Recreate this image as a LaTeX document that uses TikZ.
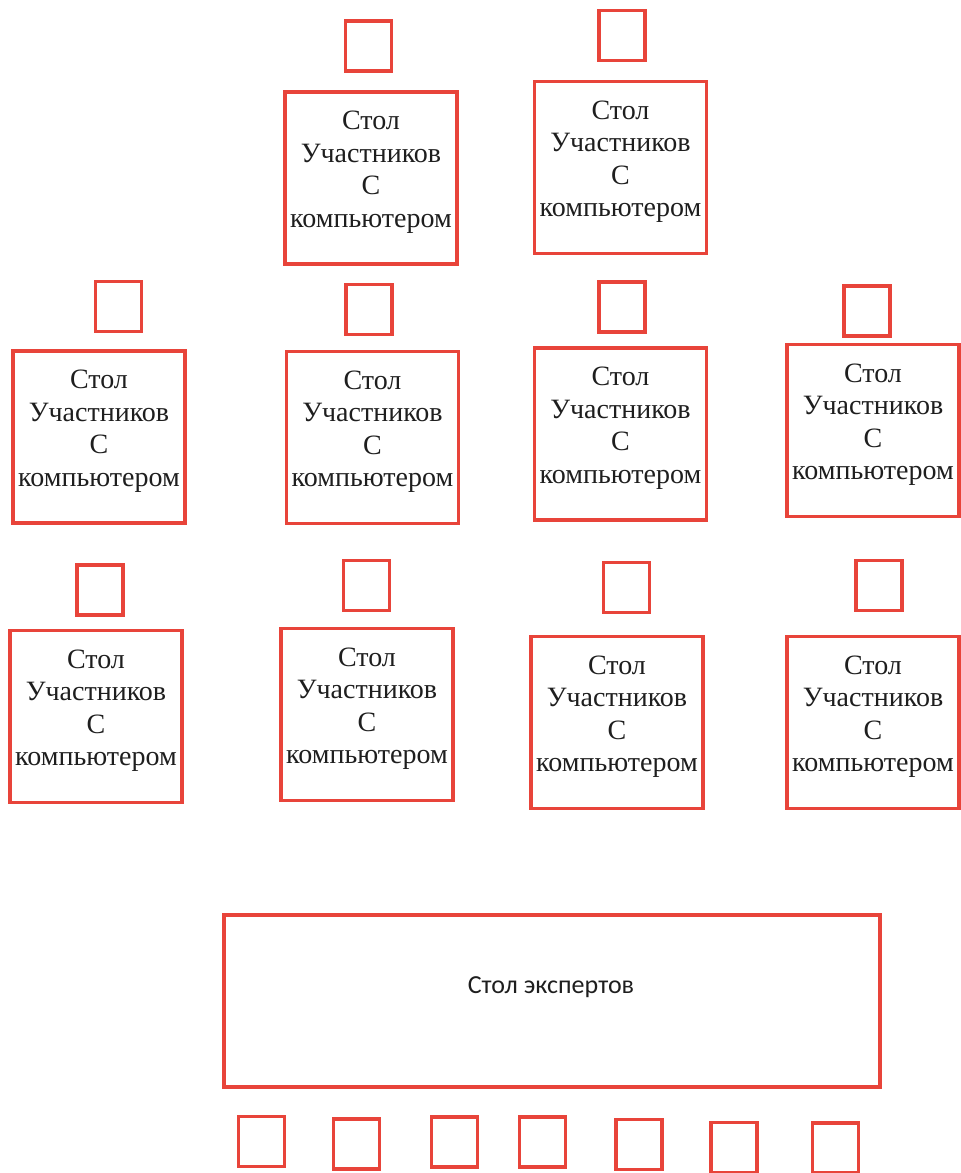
\documentclass[tikz,border=0pt]{standalone}
\usepackage{fontspec}
\setmainfont{Liberation Serif}
\newfontfamily\expfont{Carlito}
\definecolor{tred}{RGB}{232,68,58}
\definecolor{ink}{RGB}{30,30,30}
\tikzset{
  tbl/.style={draw=tred, line width=3.5pt, inner sep=0pt, minimum width=172pt, minimum height=172pt},
  chair/.style={draw=tred, line width=3.5pt, inner sep=0pt, minimum width=46pt, minimum height=50pt},
  lbl/.style={text=ink, align=center, inner sep=0pt, font=\fontsize{28}{32.5}\selectfont},
  explbl/.style={text=ink, inner sep=0pt, font=\expfont\fontsize{26}{30}\selectfont}
}
\begin{document}
\begin{tikzpicture}[x=1pt,y=-1pt]
\useasboundingbox (0,0) rectangle (961,1173);
% top row
\node[chair] (c1) at (368.5,46) {};
\node[chair] (c2) at (622,35.5) {};
\node[tbl] (t1) at (371,178) {};
\node[tbl] (t2) at (620.5,167.5) {};
% row 2
\node[chair] (c3) at (118.5,306.5) {};
\node[chair] (c4) at (369,309.5) {};
\node[chair] (c5) at (622,307) {};
\node[chair] (c6) at (867,311) {};
\node[tbl] (t3) at (99,437) {};
\node[tbl] (t4) at (372.5,437.5) {};
\node[tbl] (t5) at (620.5,434) {};
\node[tbl] (t6) at (873,430.5) {};
% row 3
\node[chair] (c7) at (100,590) {};
\node[chair] (c8) at (366.5,585.5) {};
\node[chair] (c9) at (626.5,587.5) {};
\node[chair] (c10) at (879,585.5) {};
\node[tbl] (t7) at (96,716.5) {};
\node[tbl] (t8) at (367,714.5) {};
\node[tbl] (t9) at (617,722.5) {};
\node[tbl] (t10) at (873,722.5) {};
% labels
\foreach \t in {t1,t2,t3,t4,t5,t6,t7,t8,t9,t10}{
  \node[lbl] (\t l) at ([yshift=6pt]\t.center) {Стол\\Участников\\С\\компьютером};
}
% experts
\node[tbl, minimum width=656pt] (ex) at (552,1001) {};
\node[explbl] (exl) at (551,987) {Стол экспертов};
% bottom chairs
\node[chair] (b1) at (261.5,1141.5) {};
\node[chair] (b2) at (356.5,1144) {};
\node[chair] (b3) at (454.5,1142) {};
\node[chair] (b4) at (542.5,1142) {};
\node[chair] (b5) at (639,1144.5) {};
\node[chair] (b6) at (734,1147.5) {};
\node[chair] (b7) at (835.5,1148) {};
\end{tikzpicture}
\end{document}
